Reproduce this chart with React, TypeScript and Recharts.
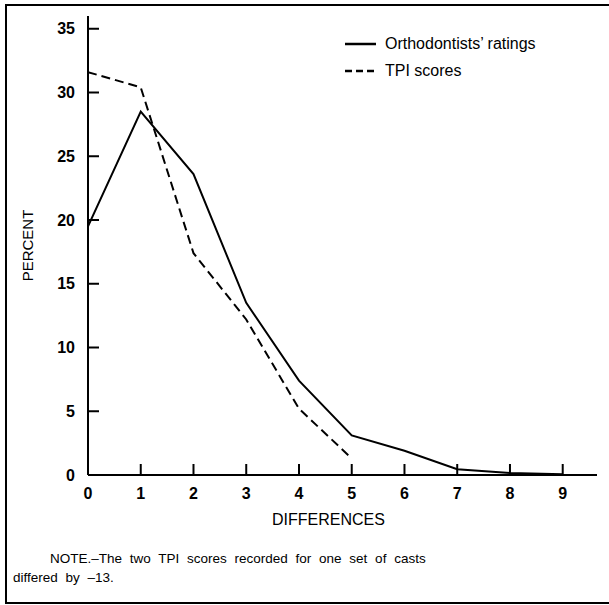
import { LineChart, Line, XAxis, YAxis, Legend } from 'recharts'

const FONT = '"Liberation Sans", Arial, Helvetica, sans-serif'

// differences between the two ratings, 0..9
const DIFFERENCES = [0, 1, 2, 3, 4, 5, 6, 7, 8, 9]
// percent of casts
const ORTHODONTISTS = [19.5, 28.5, 23.6, 13.5, 7.4, 3.1, 1.9, 0.45, 0.15, 0.05]
const TPI_SCORES = [31.6, 30.4, 17.4, 12.2, 5.2, 1.3]
const Y_TICKS = [0, 5, 10, 15, 20, 25, 30, 35]

const data = DIFFERENCES.map((d, i) => ({
    diff: d,
    ortho: ORTHODONTISTS[i],
    tpi: i < TPI_SCORES.length ? TPI_SCORES[i] : null
}))

const TICK_LEN = 11
const LABEL_GAP = 13

// ticks in the scan point inward, labels sit outside
function XTick(props: any) {
    const { x, y, payload } = props
    const axisY = y - LABEL_GAP
    return (
        <g>
            <line x1={x} y1={axisY} x2={x} y2={axisY - TICK_LEN} stroke="#000" strokeWidth={2} />
            <text x={x} y={y} dy="0.71em" textAnchor="middle" fill="#000" fontSize={16} fontWeight="bold" fontFamily={FONT}>
                {payload.value}
            </text>
        </g>
    )
}

function YTick(props: any) {
    const { x, y, payload } = props
    const axisX = x + LABEL_GAP
    return (
        <g>
            <line x1={axisX} y1={y} x2={axisX + TICK_LEN} y2={y} stroke="#000" strokeWidth={2} />
            <text x={x} y={y} dy="0.355em" textAnchor="end" fill="#000" fontSize={16} fontWeight="bold" fontFamily={FONT}>
                {payload.value}
            </text>
        </g>
    )
}

function ChartLegend() {
    const row = { display: 'flex', alignItems: 'center', height: 27 }
    return (
        <div style={{ fontFamily: FONT, fontSize: 16, color: '#000' }}>
            <div style={row}>
                <svg width={32} height={6}>
                    <line x1={0} y1={3} x2={31} y2={3} stroke="#000" strokeWidth={2.5} />
                </svg>
                <span style={{ marginLeft: 8 }}>Orthodontists’ ratings</span>
            </div>
            <div style={row}>
                <svg width={32} height={6}>
                    <line x1={0} y1={3} x2={31} y2={3} stroke="#000" strokeWidth={2.5} strokeDasharray="7 4" />
                </svg>
                <span style={{ marginLeft: 8 }}>TPI scores</span>
            </div>
        </div>
    )
}

export default function App() {
    return (
        <div style={{ position: 'absolute', left: 0, top: 0, width: 609, height: 605, background: '#fff' }}>
            <div
                style={{
                    position: 'absolute',
                    left: 5,
                    top: 4,
                    width: 604,
                    height: 596,
                    borderLeft: '2px solid #000',
                    borderTop: '2px solid #000',
                    borderBottom: '2px solid #000'
                }}
            />
            <div style={{ position: 'absolute', left: 0, top: 0 }}>
                <LineChart width={609} height={605} data={data} margin={{ top: 16, right: 12, left: 0, bottom: 94 }}>
                    <XAxis
                        dataKey="diff"
                        type="number"
                        domain={[0, 9.65]}
                        ticks={DIFFERENCES}
                        allowDataOverflow
                        height={36}
                        axisLine={{ stroke: '#000', strokeWidth: 2 }}
                        tickLine={false}
                        tickSize={0}
                        tickMargin={LABEL_GAP}
                        tick={<XTick />}
                        label={{
                            value: 'DIFFERENCES',
                            position: 'bottom',
                            offset: 3,
                            dx: -14,
                            fill: '#000',
                            fontSize: 16,
                            fontFamily: FONT
                        }}
                    />
                    <YAxis
                        type="number"
                        domain={[0, 36]}
                        ticks={Y_TICKS}
                        width={88}
                        axisLine={{ stroke: '#000', strokeWidth: 2 }}
                        tickLine={false}
                        tickSize={0}
                        tickMargin={LABEL_GAP}
                        tick={<YTick />}
                        label={{
                            value: 'PERCENT',
                            angle: -90,
                            position: 'insideLeft',
                            offset: 28,
                            fill: '#000',
                            fontSize: 15,
                            fontFamily: FONT,
                            style: { textAnchor: 'middle' }
                        }}
                    />
                    <Legend
                        layout="vertical"
                        align="center"
                        verticalAlign="middle"
                        content={<ChartLegend />}
                        wrapperStyle={{ left: 345, top: 30, width: 'auto', height: 'auto' }}
                    />
                    <Line
                        dataKey="ortho"
                        type="linear"
                        stroke="#000"
                        strokeWidth={2}
                        dot={false}
                        isAnimationActive={false}
                    />
                    <Line
                        dataKey="tpi"
                        type="linear"
                        stroke="#000"
                        strokeWidth={2}
                        strokeDasharray="9 5"
                        dot={false}
                        isAnimationActive={false}
                    />
                </LineChart>
            </div>
            <div
                style={{
                    position: 'absolute',
                    left: 13,
                    top: 549,
                    fontFamily: FONT,
                    fontSize: 13.5,
                    lineHeight: '19px',
                    color: '#000',
                    wordSpacing: 4
                }}
            >
                <div style={{ textIndent: 37 }}>NOTE.–The two TPI scores recorded for one set of casts</div>
                <div>differed by –13.</div>
            </div>
        </div>
    )
}
